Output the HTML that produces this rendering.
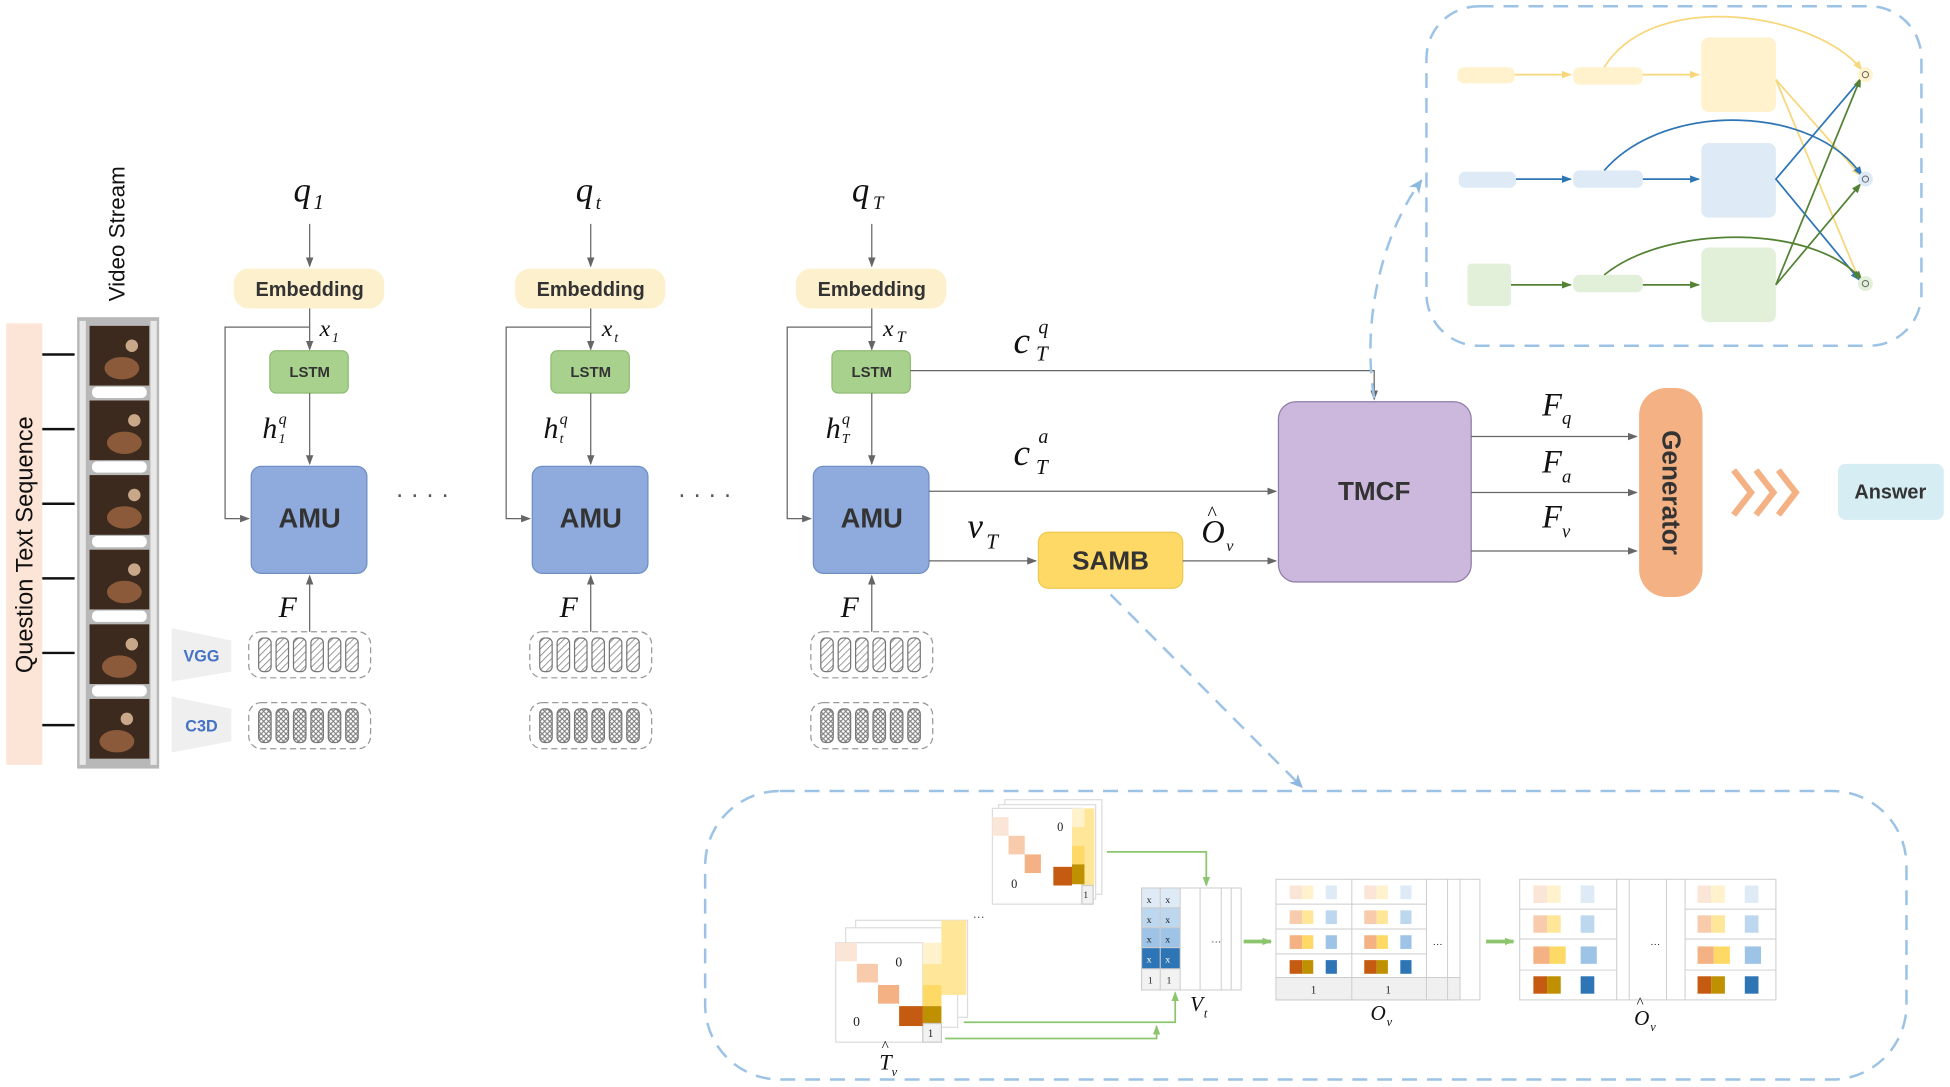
<!DOCTYPE html>
<html><head><meta charset="utf-8"><style>
html,body{margin:0;padding:0;background:#fff;}
svg{display:block;}
.s{font-family:"Liberation Sans",sans-serif;}
.m{font-family:"Liberation Serif",serif;font-style:italic;fill:#111;}
</style></head><body>
<svg width="1950" height="1087" viewBox="0 0 1568 874" xmlns="http://www.w3.org/2000/svg">
<defs>
<marker id="a" markerWidth="8" markerHeight="8" refX="7" refY="4" orient="auto" markerUnits="userSpaceOnUse"><path d="M0,1 L8,4 L0,7 z" fill="#666"/></marker>
<marker id="ab" markerWidth="12" markerHeight="12" refX="10" refY="6" orient="auto" markerUnits="userSpaceOnUse"><path d="M0,1 L11,6 L0,11 L3,6 z" fill="#8db8e0"/></marker>
<marker id="ay" markerWidth="8" markerHeight="8" refX="7" refY="4" orient="auto" markerUnits="userSpaceOnUse"><path d="M0,1 L8,4 L0,7 z" fill="#f7d77a"/></marker>
<marker id="abl" markerWidth="8" markerHeight="8" refX="7" refY="4" orient="auto" markerUnits="userSpaceOnUse"><path d="M0,1 L8,4 L0,7 z" fill="#2e75b6"/></marker>
<marker id="ag" markerWidth="8" markerHeight="8" refX="7" refY="4" orient="auto" markerUnits="userSpaceOnUse"><path d="M0,1 L8,4 L0,7 z" fill="#548235"/></marker>
<marker id="agl" markerWidth="8" markerHeight="8" refX="7" refY="4" orient="auto" markerUnits="userSpaceOnUse"><path d="M0,1 L8,4 L0,7 z" fill="#8cc56e"/></marker>
<pattern id="h1" width="4" height="4" patternUnits="userSpaceOnUse" patternTransform="rotate(45)"><line x1="0" y1="0" x2="0" y2="4" stroke="#777" stroke-width="1.2"/></pattern>
<pattern id="h2" width="4" height="4" patternUnits="userSpaceOnUse"><path d="M0,0 L4,4 M4,0 L0,4" stroke="#777" stroke-width="0.8"/></pattern>
</defs>

<!-- left band -->
<rect x="5" y="260" width="29" height="355" fill="#fce4d6"/>
<text class="s" x="0" y="0" transform="translate(26,438) rotate(-90)" text-anchor="middle" font-size="19" fill="#111">Question  Text  Sequence</text>
<g stroke="#111" stroke-width="2">
<line x1="34" y1="285" x2="60" y2="285"/><line x1="34" y1="345" x2="60" y2="345"/><line x1="34" y1="405" x2="60" y2="405"/>
<line x1="34" y1="465" x2="60" y2="465"/><line x1="34" y1="525" x2="60" y2="525"/><line x1="34" y1="583" x2="60" y2="583"/>
</g>
<text class="s" transform="translate(100,188) rotate(-90)" text-anchor="middle" font-size="18" fill="#111">Video Stream</text>
<!-- film strip -->
<rect x="62" y="255" width="66" height="363" fill="#b8b8b8"/>
<g fill="#fff">
<rect x="64" y="258" width="5" height="357" fill="#e8e8e8"/><rect x="121" y="258" width="5" height="357" fill="#e8e8e8"/>
</g>
<g fill="#3b2a1d">
<rect x="72" y="262" width="48" height="48"/><rect x="72" y="322" width="48" height="48"/><rect x="72" y="382" width="48" height="48"/>
<rect x="72" y="442" width="48" height="48"/><rect x="72" y="502" width="48" height="48"/><rect x="72" y="562" width="48" height="48"/>
</g>
<g fill="#8a5a3a">
<ellipse cx="98" cy="296" rx="14" ry="9"/><ellipse cx="100" cy="356" rx="14" ry="9"/><ellipse cx="100" cy="416" rx="14" ry="9"/>
<ellipse cx="100" cy="476" rx="14" ry="9"/><ellipse cx="96" cy="536" rx="14" ry="9"/><ellipse cx="94" cy="596" rx="14" ry="9"/>
</g>
<g fill="#c9a88a"><circle cx="106" cy="278" r="5"/><circle cx="108" cy="338" r="5"/><circle cx="108" cy="398" r="5"/><circle cx="108" cy="458" r="5"/><circle cx="106" cy="518" r="5"/><circle cx="102" cy="578" r="5"/></g>
<g fill="#fff"><rect x="74" y="311" width="44" height="9" rx="4"/><rect x="74" y="371" width="44" height="9" rx="4"/><rect x="74" y="431" width="44" height="9" rx="4"/><rect x="74" y="491" width="44" height="9" rx="4"/><rect x="74" y="551" width="44" height="9" rx="4"/></g>

<!-- VGG/C3D -->
<path d="M138,505 L186,515 L186,540 L138,548 z" fill="#efefef"/>
<text class="s" x="162" y="532" text-anchor="middle" font-size="13" font-weight="bold" fill="#4472c4">VGG</text>
<path d="M138,560 L186,570 L186,596 L138,605 z" fill="#efefef"/>
<text class="s" x="162" y="588" text-anchor="middle" font-size="13" font-weight="bold" fill="#4472c4">C3D</text>

<!-- columns -->
<g id="col">
<text class="m" x="236" y="162" font-size="28">q</text><text class="m" x="252" y="168" font-size="17" font-style="normal">1</text>
<line x1="249" y1="180" x2="249" y2="214" stroke="#666" marker-end="url(#a)"/>
<rect x="188" y="216" width="121" height="32" rx="12" fill="#fdf0cc"/>
<text class="s" x="249" y="238" text-anchor="middle" font-size="16" font-weight="bold" fill="#333">Embedding</text>
<line x1="249" y1="248" x2="249" y2="281" stroke="#666" marker-end="url(#a)"/>
<text class="m" x="257" y="270" font-size="19">x</text><text class="m" x="267" y="275" font-size="11">1</text>
<polyline points="249,263 181,263 181,417 200,417" fill="none" stroke="#666" marker-end="url(#a)"/>
<rect x="217" y="282" width="63" height="34" rx="5" fill="#a9d18e" stroke="#8fbc70"/>
<text class="s" x="249" y="303" text-anchor="middle" font-size="12" font-weight="bold" fill="#333">LSTM</text>
<line x1="249" y1="316" x2="249" y2="373" stroke="#666" marker-end="url(#a)"/>
<text class="m" x="211" y="352" font-size="24">h</text><text class="m" x="224" y="341" font-size="13">q</text><text class="m" x="224" y="356" font-size="11">1</text>
<rect x="202" y="375" width="93" height="86" rx="8" fill="#8faadc" stroke="#6f8fc4"/>
<text class="s" x="249" y="424" text-anchor="middle" font-size="22" font-weight="bold" fill="#333">AMU</text>
<line x1="249" y1="508" x2="249" y2="463" stroke="#666" marker-end="url(#a)"/>
<text class="m" x="224" y="496" font-size="24">F</text>
<rect x="200" y="508" width="98" height="37" rx="10" fill="none" stroke="#999" stroke-dasharray="5,3"/>
<rect x="200" y="565" width="98" height="37" rx="10" fill="none" stroke="#999" stroke-dasharray="5,3"/>
<g stroke="#777" stroke-width="1">
<rect x="208" y="513" width="10" height="27" rx="4" fill="url(#h1)"/><rect x="222" y="513" width="10" height="27" rx="4" fill="url(#h1)"/><rect x="236" y="513" width="10" height="27" rx="4" fill="url(#h1)"/><rect x="250" y="513" width="10" height="27" rx="4" fill="url(#h1)"/><rect x="264" y="513" width="10" height="27" rx="4" fill="url(#h1)"/><rect x="278" y="513" width="10" height="27" rx="4" fill="url(#h1)"/>
<rect x="208" y="570" width="10" height="27" rx="4" fill="url(#h2)"/><rect x="222" y="570" width="10" height="27" rx="4" fill="url(#h2)"/><rect x="236" y="570" width="10" height="27" rx="4" fill="url(#h2)"/><rect x="250" y="570" width="10" height="27" rx="4" fill="url(#h2)"/><rect x="264" y="570" width="10" height="27" rx="4" fill="url(#h2)"/><rect x="278" y="570" width="10" height="27" rx="4" fill="url(#h2)"/>
</g>
</g>
<!-- column 2 -->
<g transform="translate(226,0)">
<line x1="249" y1="180" x2="249" y2="214" stroke="#666" marker-end="url(#a)"/>
<rect x="188" y="216" width="121" height="32" rx="12" fill="#fdf0cc"/>
<text class="s" x="249" y="238" text-anchor="middle" font-size="16" font-weight="bold" fill="#333">Embedding</text>
<line x1="249" y1="248" x2="249" y2="281" stroke="#666" marker-end="url(#a)"/>
<polyline points="249,263 181,263 181,417 200,417" fill="none" stroke="#666" marker-end="url(#a)"/>
<rect x="217" y="282" width="63" height="34" rx="5" fill="#a9d18e" stroke="#8fbc70"/>
<text class="s" x="249" y="303" text-anchor="middle" font-size="12" font-weight="bold" fill="#333">LSTM</text>
<line x1="249" y1="316" x2="249" y2="373" stroke="#666" marker-end="url(#a)"/>
<rect x="202" y="375" width="93" height="86" rx="8" fill="#8faadc" stroke="#6f8fc4"/>
<text class="s" x="249" y="424" text-anchor="middle" font-size="22" font-weight="bold" fill="#333">AMU</text>
<line x1="249" y1="508" x2="249" y2="463" stroke="#666" marker-end="url(#a)"/>
<text class="m" x="224" y="496" font-size="24">F</text>
<rect x="200" y="508" width="98" height="37" rx="10" fill="none" stroke="#999" stroke-dasharray="5,3"/>
<rect x="200" y="565" width="98" height="37" rx="10" fill="none" stroke="#999" stroke-dasharray="5,3"/>
<g stroke="#777">
<rect x="208" y="513" width="10" height="27" rx="4" fill="url(#h1)"/><rect x="222" y="513" width="10" height="27" rx="4" fill="url(#h1)"/><rect x="236" y="513" width="10" height="27" rx="4" fill="url(#h1)"/><rect x="250" y="513" width="10" height="27" rx="4" fill="url(#h1)"/><rect x="264" y="513" width="10" height="27" rx="4" fill="url(#h1)"/><rect x="278" y="513" width="10" height="27" rx="4" fill="url(#h1)"/>
<rect x="208" y="570" width="10" height="27" rx="4" fill="url(#h2)"/><rect x="222" y="570" width="10" height="27" rx="4" fill="url(#h2)"/><rect x="236" y="570" width="10" height="27" rx="4" fill="url(#h2)"/><rect x="250" y="570" width="10" height="27" rx="4" fill="url(#h2)"/><rect x="264" y="570" width="10" height="27" rx="4" fill="url(#h2)"/><rect x="278" y="570" width="10" height="27" rx="4" fill="url(#h2)"/>
</g>
</g>
<g transform="translate(452,0)">
<line x1="249" y1="180" x2="249" y2="214" stroke="#666" marker-end="url(#a)"/>
<rect x="188" y="216" width="121" height="32" rx="12" fill="#fdf0cc"/>
<text class="s" x="249" y="238" text-anchor="middle" font-size="16" font-weight="bold" fill="#333">Embedding</text>
<line x1="249" y1="248" x2="249" y2="281" stroke="#666" marker-end="url(#a)"/>
<polyline points="249,263 181,263 181,417 200,417" fill="none" stroke="#666" marker-end="url(#a)"/>
<rect x="217" y="282" width="63" height="34" rx="5" fill="#a9d18e" stroke="#8fbc70"/>
<text class="s" x="249" y="303" text-anchor="middle" font-size="12" font-weight="bold" fill="#333">LSTM</text>
<line x1="249" y1="316" x2="249" y2="373" stroke="#666" marker-end="url(#a)"/>
<rect x="202" y="375" width="93" height="86" rx="8" fill="#8faadc" stroke="#6f8fc4"/>
<text class="s" x="249" y="424" text-anchor="middle" font-size="22" font-weight="bold" fill="#333">AMU</text>
<line x1="249" y1="508" x2="249" y2="463" stroke="#666" marker-end="url(#a)"/>
<text class="m" x="224" y="496" font-size="24">F</text>
<rect x="200" y="508" width="98" height="37" rx="10" fill="none" stroke="#999" stroke-dasharray="5,3"/>
<rect x="200" y="565" width="98" height="37" rx="10" fill="none" stroke="#999" stroke-dasharray="5,3"/>
<g stroke="#777">
<rect x="208" y="513" width="10" height="27" rx="4" fill="url(#h1)"/><rect x="222" y="513" width="10" height="27" rx="4" fill="url(#h1)"/><rect x="236" y="513" width="10" height="27" rx="4" fill="url(#h1)"/><rect x="250" y="513" width="10" height="27" rx="4" fill="url(#h1)"/><rect x="264" y="513" width="10" height="27" rx="4" fill="url(#h1)"/><rect x="278" y="513" width="10" height="27" rx="4" fill="url(#h1)"/>
<rect x="208" y="570" width="10" height="27" rx="4" fill="url(#h2)"/><rect x="222" y="570" width="10" height="27" rx="4" fill="url(#h2)"/><rect x="236" y="570" width="10" height="27" rx="4" fill="url(#h2)"/><rect x="250" y="570" width="10" height="27" rx="4" fill="url(#h2)"/><rect x="264" y="570" width="10" height="27" rx="4" fill="url(#h2)"/><rect x="278" y="570" width="10" height="27" rx="4" fill="url(#h2)"/>
</g>
</g>
<!-- col 2/3 labels -->
<text class="m" x="463" y="162" font-size="28">q</text><text class="m" x="479" y="168" font-size="15">t</text>
<text class="m" x="484" y="270" font-size="19">x</text><text class="m" x="494" y="275" font-size="11">t</text>
<text class="m" x="437" y="352" font-size="24">h</text><text class="m" x="450" y="341" font-size="13">q</text><text class="m" x="450" y="356" font-size="11">t</text>
<text class="m" x="685" y="162" font-size="28">q</text><text class="m" x="702" y="168" font-size="15">T</text>
<text class="m" x="710" y="270" font-size="19">x</text><text class="m" x="721" y="275" font-size="13">T</text>
<text class="m" x="664" y="352" font-size="24">h</text><text class="m" x="677" y="341" font-size="13">q</text><text class="m" x="677" y="356" font-size="11">T</text>
<text x="318" y="404" font-size="20" fill="#555" font-family="Liberation Sans">·  ·  ·  ·</text>
<text x="545" y="404" font-size="20" fill="#555" font-family="Liberation Sans">·  ·  ·  ·</text>

<!-- connections to TMCF -->
<polyline points="732,298 1105,298 1105,321" fill="none" stroke="#666" marker-end="url(#a)"/>
<text class="m" x="815" y="284" font-size="30">c</text><text class="m" x="835" y="268" font-size="16">q</text><text class="m" x="833" y="290" font-size="17">T</text>
<line x1="747" y1="395" x2="1026" y2="395" stroke="#666" marker-end="url(#a)"/>
<text class="m" x="815" y="374" font-size="30">c</text><text class="m" x="835" y="356" font-size="16">a</text><text class="m" x="833" y="381" font-size="17">T</text>
<line x1="747" y1="451" x2="833" y2="451" stroke="#666" marker-end="url(#a)"/>
<text class="m" x="778" y="432" font-size="28">v</text><text class="m" x="793" y="441" font-size="17">T</text>
<rect x="835" y="428" width="116" height="45" rx="8" fill="#ffd966" stroke="#f0c850"/>
<text class="s" x="893" y="458" text-anchor="middle" font-size="21" font-weight="bold" fill="#333">SAMB</text>
<line x1="951" y1="451" x2="1026" y2="451" stroke="#666" marker-end="url(#a)"/>
<text class="m" x="966" y="436" font-size="26" font-style="normal">O</text><text x="971" y="418" font-size="16" font-family="Liberation Serif">^</text><text class="m" x="986" y="443" font-size="13">v</text>
<rect x="1028" y="323" width="155" height="145" rx="14" fill="#cbb8dc" stroke="#8f7aa8"/>
<text class="s" x="1105" y="402" text-anchor="middle" font-size="21" font-weight="bold" fill="#333">TMCF</text>
<line x1="1183" y1="351" x2="1316" y2="351" stroke="#666" marker-end="url(#a)"/>
<line x1="1183" y1="396" x2="1316" y2="396" stroke="#666" marker-end="url(#a)"/>
<line x1="1183" y1="443" x2="1316" y2="443" stroke="#666" marker-end="url(#a)"/>
<text class="m" x="1240" y="334" font-size="26">F</text><text class="m" x="1256" y="341" font-size="15">q</text>
<text class="m" x="1240" y="380" font-size="26">F</text><text class="m" x="1256" y="388" font-size="15">a</text>
<text class="m" x="1240" y="424" font-size="26">F</text><text class="m" x="1256" y="432" font-size="15">v</text>
<rect x="1318" y="312" width="51" height="168" rx="22" fill="#f4b183"/>
<text class="s" transform="translate(1337,396) rotate(90)" text-anchor="middle" font-size="21" font-weight="bold" fill="#333">Generator</text>
<g fill="none" stroke="#f4b183" stroke-width="5">
<polyline points="1394,378 1408,396 1394,414"/><polyline points="1412,378 1426,396 1412,414"/><polyline points="1430,378 1444,396 1430,414"/>
</g>
<rect x="1478" y="373" width="85" height="45" rx="6" fill="#d5edf3"/>
<text class="s" x="1520" y="401" text-anchor="middle" font-size="16" font-weight="bold" fill="#333">Answer</text>

<!-- top-right dashed box -->
<rect x="1147" y="5" width="398" height="273" rx="42" fill="none" stroke="#9cc3e6" stroke-width="2" stroke-dasharray="12,8"/>
<path d="M1105,320 C1095,260 1110,190 1143,145" fill="none" stroke="#9cc3e6" stroke-width="2" stroke-dasharray="12,8" marker-end="url(#ab)"/>
<rect x="1172" y="54" width="46" height="13" rx="5" fill="#fff2cc"/>
<rect x="1265" y="54" width="56" height="14" rx="5" fill="#fff2cc"/>
<rect x="1368" y="30" width="60" height="60" rx="6" fill="#fff2cc"/>
<rect x="1173" y="138" width="46" height="13" rx="5" fill="#deebf7"/>
<rect x="1265" y="137" width="56" height="14" rx="5" fill="#deebf7"/>
<rect x="1368" y="115" width="60" height="60" rx="6" fill="#deebf7"/>
<rect x="1180" y="212" width="35" height="34" rx="3" fill="#e2f0d9"/>
<rect x="1265" y="221" width="56" height="14" rx="5" fill="#e2f0d9"/>
<rect x="1368" y="199" width="60" height="60" rx="6" fill="#e2f0d9"/>
<g stroke-width="1.4" fill="none">
<line x1="1218" y1="60" x2="1263" y2="60" stroke="#f7d77a" marker-end="url(#ay)"/>
<line x1="1321" y1="60" x2="1366" y2="60" stroke="#f7d77a" marker-end="url(#ay)"/>
<path d="M1290,54 C1330,-10 1460,10 1497,56" stroke="#f7d77a" marker-end="url(#ay)"/>
<line x1="1428" y1="64" x2="1496" y2="141" stroke="#f7d77a" marker-end="url(#ay)"/>
<line x1="1428" y1="64" x2="1495" y2="225" stroke="#f7d77a" marker-end="url(#ay)"/>
<line x1="1219" y1="144" x2="1263" y2="144" stroke="#2e75b6" marker-end="url(#abl)"/>
<line x1="1321" y1="144" x2="1366" y2="144" stroke="#2e75b6" marker-end="url(#abl)"/>
<path d="M1290,137 C1340,80 1460,85 1497,141" stroke="#2e75b6" marker-end="url(#abl)"/>
<polyline points="1496,64 1428,144 1495,225" stroke="#2e75b6" marker-end="url(#abl)"/>
<line x1="1215" y1="229" x2="1263" y2="229" stroke="#548235" marker-end="url(#ag)"/>
<line x1="1321" y1="229" x2="1366" y2="229" stroke="#548235" marker-end="url(#ag)"/>
<path d="M1290,221 C1340,180 1460,180 1497,225" stroke="#548235" marker-end="url(#ag)"/>
<line x1="1428" y1="229" x2="1496" y2="63" stroke="#548235" marker-end="url(#ag)"/>
<line x1="1428" y1="229" x2="1496" y2="148" stroke="#548235" marker-end="url(#ag)"/>
</g>
<circle cx="1500" cy="60" r="6" fill="#fff2cc"/><circle cx="1500" cy="144" r="6" fill="#deebf7"/><circle cx="1500" cy="228" r="6" fill="#e2f0d9"/>
<g fill="none" stroke="#666" stroke-width="0.8"><circle cx="1500" cy="60" r="2.5"/><circle cx="1500" cy="144" r="2.5"/><circle cx="1500" cy="228" r="2.5"/></g>

<!-- bottom dashed box -->
<rect x="567" y="636" width="966" height="232" rx="60" fill="none" stroke="#9cc3e6" stroke-width="2" stroke-dasharray="12,8"/>
<line x1="893" y1="478" x2="1047" y2="633" stroke="#9cc3e6" stroke-width="2" stroke-dasharray="12,8" marker-end="url(#ab)"/>

<!-- back matrix -->
<g>
<rect x="808" y="643" width="78" height="76" fill="#fff" stroke="#ddd"/>
<rect x="803" y="647" width="78" height="76" fill="#fff" stroke="#ddd"/>
<rect x="798" y="650" width="72" height="77" fill="#fff" stroke="#ddd"/>
<rect x="870" y="650" width="10" height="62" fill="#ffe699"/>
<rect x="870" y="712" width="9" height="15" fill="#f2f2f2" stroke="#ccc"/>
<rect x="862" y="650" width="10" height="15" fill="#fff2cc"/><rect x="862" y="665" width="10" height="15" fill="#ffe699"/><rect x="862" y="680" width="10" height="15" fill="#ffd966"/><rect x="862" y="695" width="10" height="16" fill="#bf9000"/>
<rect x="798" y="657" width="13" height="15" fill="#fbe5d6"/><rect x="811" y="672" width="13" height="15" fill="#f8cbad"/><rect x="824" y="687" width="13" height="15" fill="#f4b183"/><rect x="847" y="697" width="15" height="15" fill="#c55a11"/>
<text x="850" y="668" font-size="10" font-family="Liberation Serif" fill="#222">0</text>
<text x="813" y="714" font-size="10" font-family="Liberation Serif" fill="#222">0</text>
<text x="871" y="722" font-size="8" font-family="Liberation Serif" fill="#222">1</text>
</g>
<text x="782" y="738" font-size="10" fill="#555" font-family="Liberation Sans">…</text>
<!-- front matrix -->
<g>
<rect x="688" y="740" width="90" height="78" fill="#fff" stroke="#ddd"/>
<rect x="680" y="746" width="90" height="80" fill="#fff" stroke="#ddd"/>
<rect x="672" y="758" width="70" height="80" fill="#fff" stroke="#ddd"/>
<rect x="757" y="740" width="20" height="60" fill="#ffe699"/>
<rect x="742" y="758" width="15" height="17" fill="#fff2cc"/><rect x="742" y="775" width="15" height="17" fill="#ffe699"/><rect x="742" y="792" width="15" height="17" fill="#ffd966"/><rect x="742" y="809" width="15" height="14" fill="#bf9000"/>
<rect x="742" y="823" width="15" height="15" fill="#f2f2f2" stroke="#ccc"/>
<rect x="672" y="758" width="17" height="15" fill="#fbe5d6"/><rect x="689" y="775" width="17" height="15" fill="#f8cbad"/><rect x="706" y="792" width="17" height="15" fill="#f4b183"/><rect x="723" y="809" width="19" height="16" fill="#c55a11"/>
<text x="720" y="777" font-size="11" font-family="Liberation Serif" fill="#222">0</text>
<text x="686" y="825" font-size="11" font-family="Liberation Serif" fill="#222">0</text>
<text x="746" y="834" font-size="9" font-family="Liberation Serif" fill="#222">1</text>
</g>
<text class="m" x="707" y="860" font-size="18" font-style="normal">T</text><text x="709" y="845" font-size="12" font-family="Liberation Serif">^</text><text class="m" x="717" y="865" font-size="10">v</text>
<!-- green connectors -->
<g fill="none" stroke="#8cc56e" stroke-width="1.4">
<polyline points="890,685 970,685 970,712" marker-end="url(#agl)"/>
<polyline points="775,822 945,822 945,798" marker-end="url(#agl)"/>
<polyline points="760,835 930,835 930,825" marker-end="url(#agl)"/>
</g>
<!-- V_t -->
<g stroke="#ccc" stroke-width="0.8">
<rect x="918" y="714" width="80" height="82" fill="#fff"/>
<rect x="918" y="714" width="15" height="16" fill="#deebf7"/><rect x="933" y="714" width="16" height="16" fill="#deebf7"/>
<rect x="918" y="730" width="15" height="16" fill="#bdd7ee"/><rect x="933" y="730" width="16" height="16" fill="#bdd7ee"/>
<rect x="918" y="746" width="15" height="16" fill="#9dc3e6"/><rect x="933" y="746" width="16" height="16" fill="#9dc3e6"/>
<rect x="918" y="762" width="15" height="17" fill="#2e75b6"/><rect x="933" y="762" width="16" height="17" fill="#2e75b6"/>
<rect x="918" y="779" width="15" height="17" fill="#f2f2f2"/><rect x="933" y="779" width="16" height="17" fill="#f2f2f2"/>
<line x1="965" y1="714" x2="965" y2="796"/><line x1="982" y1="714" x2="982" y2="796"/><line x1="990" y1="714" x2="990" y2="796"/>
</g>
<g font-family="Liberation Serif" font-size="8" fill="#222">
<text x="922" y="726">x</text><text x="937" y="726">x</text><text x="922" y="742">x</text><text x="937" y="742">x</text><text x="922" y="758">x</text><text x="937" y="758">x</text><text x="922" y="774" fill="#fff">x</text><text x="937" y="774" fill="#fff">x</text>
<text x="923" y="791">1</text><text x="938" y="791">1</text><text x="974" y="758">…</text>
</g>
<text class="m" x="957" y="813" font-size="17">V</text><text class="m" x="968" y="818" font-size="10">t</text>
<line x1="1000" y1="757" x2="1022" y2="757" stroke="#8cc56e" stroke-width="3" marker-end="url(#agl)"/>
<!-- O_v -->
<g stroke="#ccc" stroke-width="0.8">
<rect x="1026" y="707" width="164" height="97" fill="#fff"/>
<rect x="1026" y="786" width="148" height="18" fill="#f0f0f0"/>
<line x1="1026" y1="727" x2="1147" y2="727"/><line x1="1026" y1="747" x2="1147" y2="747"/><line x1="1026" y1="767" x2="1147" y2="767"/>
<line x1="1087" y1="707" x2="1087" y2="804"/><line x1="1147" y1="707" x2="1147" y2="804"/><line x1="1164" y1="707" x2="1164" y2="804"/><line x1="1174" y1="707" x2="1174" y2="804"/>
</g>
<g>
<rect x="1037" y="712" width="10" height="11" fill="#fbe5d6"/><rect x="1047" y="712" width="9" height="11" fill="#fff2cc"/><rect x="1066" y="712" width="9" height="11" fill="#deebf7"/>
<rect x="1037" y="732" width="10" height="11" fill="#f8cbad"/><rect x="1047" y="732" width="9" height="11" fill="#ffe699"/><rect x="1066" y="732" width="9" height="11" fill="#bdd7ee"/>
<rect x="1037" y="752" width="10" height="11" fill="#f4b183"/><rect x="1047" y="752" width="9" height="11" fill="#ffd966"/><rect x="1066" y="752" width="9" height="11" fill="#9dc3e6"/>
<rect x="1037" y="772" width="10" height="11" fill="#c55a11"/><rect x="1047" y="772" width="9" height="11" fill="#bf9000"/><rect x="1066" y="772" width="9" height="11" fill="#2e75b6"/>
<rect x="1097" y="712" width="10" height="11" fill="#fbe5d6"/><rect x="1107" y="712" width="9" height="11" fill="#fff2cc"/><rect x="1126" y="712" width="9" height="11" fill="#deebf7"/>
<rect x="1097" y="732" width="10" height="11" fill="#f8cbad"/><rect x="1107" y="732" width="9" height="11" fill="#ffe699"/><rect x="1126" y="732" width="9" height="11" fill="#bdd7ee"/>
<rect x="1097" y="752" width="10" height="11" fill="#f4b183"/><rect x="1107" y="752" width="9" height="11" fill="#ffd966"/><rect x="1126" y="752" width="9" height="11" fill="#9dc3e6"/>
<rect x="1097" y="772" width="10" height="11" fill="#c55a11"/><rect x="1107" y="772" width="9" height="11" fill="#bf9000"/><rect x="1126" y="772" width="9" height="11" fill="#2e75b6"/>
</g>
<g font-family="Liberation Serif" font-size="9" fill="#222">
<text x="1054" y="799">1</text><text x="1114" y="799">1</text><text x="1152" y="760" font-size="8">…</text>
</g>
<text class="m" x="1102" y="820" font-size="17">O</text><text class="m" x="1115" y="825" font-size="10">v</text>
<line x1="1195" y1="757" x2="1217" y2="757" stroke="#8cc56e" stroke-width="3" marker-end="url(#agl)"/>
<!-- O hat -->
<g stroke="#ccc" stroke-width="0.8">
<rect x="1222" y="707" width="206" height="97" fill="#fff"/>
<line x1="1222" y1="731" x2="1300" y2="731"/><line x1="1222" y1="755" x2="1300" y2="755"/><line x1="1222" y1="780" x2="1300" y2="780"/>
<line x1="1355" y1="731" x2="1428" y2="731"/><line x1="1355" y1="755" x2="1428" y2="755"/><line x1="1355" y1="780" x2="1428" y2="780"/>
<line x1="1300" y1="707" x2="1300" y2="804"/><line x1="1310" y1="707" x2="1310" y2="804"/><line x1="1340" y1="707" x2="1340" y2="804"/><line x1="1355" y1="707" x2="1355" y2="804"/>
</g>
<g>
<rect x="1233" y="712" width="11" height="14" fill="#fbe5d6"/><rect x="1244" y="712" width="11" height="14" fill="#fff2cc"/><rect x="1271" y="712" width="11" height="14" fill="#deebf7"/>
<rect x="1233" y="736" width="11" height="14" fill="#f8cbad"/><rect x="1244" y="736" width="11" height="14" fill="#ffe699"/><rect x="1271" y="736" width="11" height="14" fill="#bdd7ee"/>
<rect x="1233" y="761" width="13" height="14" fill="#f4b183"/><rect x="1246" y="761" width="13" height="14" fill="#ffd966"/><rect x="1271" y="761" width="13" height="14" fill="#9dc3e6"/>
<rect x="1233" y="785" width="11" height="14" fill="#c55a11"/><rect x="1244" y="785" width="11" height="14" fill="#bf9000"/><rect x="1271" y="785" width="11" height="14" fill="#2e75b6"/>
<rect x="1365" y="712" width="11" height="14" fill="#fbe5d6"/><rect x="1376" y="712" width="11" height="14" fill="#fff2cc"/><rect x="1403" y="712" width="11" height="14" fill="#deebf7"/>
<rect x="1365" y="736" width="11" height="14" fill="#f8cbad"/><rect x="1376" y="736" width="11" height="14" fill="#ffe699"/><rect x="1403" y="736" width="11" height="14" fill="#bdd7ee"/>
<rect x="1365" y="761" width="13" height="14" fill="#f4b183"/><rect x="1378" y="761" width="13" height="14" fill="#ffd966"/><rect x="1403" y="761" width="13" height="14" fill="#9dc3e6"/>
<rect x="1365" y="785" width="11" height="14" fill="#c55a11"/><rect x="1376" y="785" width="11" height="14" fill="#bf9000"/><rect x="1403" y="785" width="11" height="14" fill="#2e75b6"/>
</g>
<text x="1327" y="760" font-size="8" font-family="Liberation Serif" fill="#222">…</text>
<text class="m" x="1314" y="824" font-size="17" font-style="normal">O</text><text x="1316" y="810" font-size="12" font-family="Liberation Serif">^</text><text class="m" x="1327" y="829" font-size="10">v</text>
</svg>
</body></html>
